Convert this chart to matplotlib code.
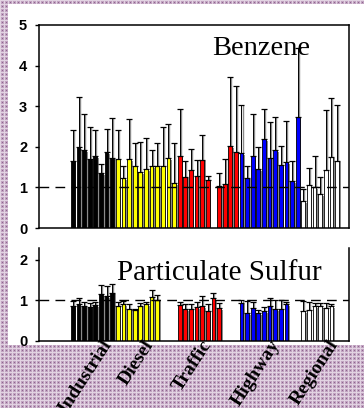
import numpy as np
import matplotlib.pyplot as plt

# groups of samples, left to right
groups = ['Industrial', 'Diesel', 'Traffic', 'Highway', 'Regional']
colors = ['#000000', '#ffff00', '#ff0000', '#0000ff', '#ffffff']

# Benzene ratio per sample (nan = no sample) and upper error
benz_ind = [1.66, 1.99, 1.92, 1.70, 1.77, 1.35, 1.86, 1.72]
benz_ind_err = [0.75, 1.23, 0.88, 0.80, 0.64, 0.22, 0.57, 0.98]
benz_die = [1.70, 1.22, 1.70, 1.53, 1.38, 1.45, 1.52, 1.53, 1.53, 1.72, 1.10]
benz_die_err = [0.72, 0.31, 0.98, 0.56, 0.73, 0.77, 0.40, 0.56, 0.96, 0.83, 0.99]
benz_tra = [1.77, 1.26, 1.42, 1.29, 1.68, 1.18, np.nan, 1.03, 1.08, 2.02, 1.87]
benz_tra_err = [1.16, 0.39, 0.53, 0.38, 0.62, 0.11, np.nan, 0.32, 0.61, 1.69, 1.63]
benz_hwy = [1.85, 1.24, 1.77, 1.45, 2.19, 1.73, 1.91, 1.54, 1.62, 1.16, 2.73]
benz_hwy_err = [1.18, 0.29, 1.03, 0.55, 0.73, 0.87, 0.82, 0.47, 1.02, 0.50, 1.70]
benz_reg = [0.66, 1.05, 1.01, 0.84, 1.42, 1.76, 1.66]
benz_reg_err = [0.29, 0.42, 0.77, 0.42, 1.48, 1.43, 1.36]

# Particulate sulfur ratio per sample
sulf_ind = [0.86, 0.91, 0.86, 0.84, 0.88, 1.15, 1.11, 1.19]
sulf_ind_err = [0.12, 0.15, 0.09, 0.10, 0.07, 0.24, 0.24, 0.21]
sulf_die = [0.87, 0.91, 0.80, 0.77, 0.87, 0.91, 1.09, 1.02, np.nan, np.nan, np.nan]
sulf_die_err = [0.09, 0.07, 0.10, 0.03, 0.07, 0.04, 0.16, 0.12, np.nan, np.nan, np.nan]
sulf_tra = [0.88, 0.78, 0.78, 0.83, 0.86, 0.73, 1.05, 0.81, np.nan, np.nan, np.nan]
sulf_tra_err = [0.08, 0.14, 0.12, 0.13, 0.24, 0.19, 0.12, 0.12, np.nan, np.nan, np.nan]
sulf_hwy = [0.94, 0.68, 0.81, 0.68, 0.73, 0.87, 0.78, 0.78, 0.91, np.nan, np.nan]
sulf_hwy_err = [0.08, 0.30, 0.15, 0.08, 0.11, 0.19, 0.22, 0.22, 0.06, np.nan, np.nan]
sulf_reg = [0.73, 0.77, 0.85, 0.86, 0.81, 0.85, np.nan]
sulf_reg_err = [0.25, 0.18, 0.08, 0.07, 0.12, 0.07, np.nan]

benz = [benz_ind, benz_die, benz_tra, benz_hwy, benz_reg]
benz_err = [benz_ind_err, benz_die_err, benz_tra_err, benz_hwy_err, benz_reg_err]
sulf = [sulf_ind, sulf_die, sulf_tra, sulf_hwy, sulf_reg]
sulf_err = [sulf_ind_err, sulf_die_err, sulf_tra_err, sulf_hwy_err, sulf_reg_err]

# where the rotated group labels end (in bar slots)
label_x = [6.3, 13.7, 24.1, 36.2, 46.6]

W, H = 364, 408
fig = plt.figure(figsize=(W / 100, H / 100), dpi=100)

# checkered page background round the chart ----------------------------------
bg = np.ones((H, W, 3))
yy, xx = np.mgrid[0:H, 0:W]
tex = np.full((H, W, 3), [0.76, 0.64, 0.76])
tex[(xx % 4 == 0) | (yy % 4 == 0)] = [0.89, 0.83, 0.89]
tex[(xx % 4 == 2) & (yy % 4 == 2)] = [0.56, 0.40, 0.56]
mask = (xx < 8) | (yy < 4) | (yy >= 345)
bg[mask] = tex[mask]
fig.figimage(bg, 0, 0, zorder=-1)

ax1 = fig.add_axes([39 / W, 1 - 228 / H, 310 / W, 203 / H])
ax2 = fig.add_axes([39 / W, 1 - 341 / H, 310 / W, 93 / H])


def draw_panel(ax, vals, errs):
    start = 0
    for c, v, e in zip(colors, vals, errs):
        v = np.array(v, dtype=float)
        e = np.array(e, dtype=float)
        x = start + np.arange(len(v))
        ok = ~np.isnan(v)
        x, v, e = x[ok], v[ok], e[ok]
        # grey depth shadow
        ax.bar(x + 0.3, v - 0.04, width=0.67, color='#8a8a8a', zorder=1)
        ax.bar(x, v, width=0.67, color=c, edgecolor='black', linewidth=0.6, zorder=2)
        ax.vlines(x + 0.18, v, v + e, color='#8a8a8a', linewidth=1.0, zorder=2)
        ax.errorbar(x, v, yerr=[np.zeros_like(e), e], fmt='none', ecolor='black',
                    elinewidth=0.7, capsize=2.5, capthick=0.9, zorder=3)
        start += len(v) + (~ok).sum()
    ax.axhline(1, color='black', linewidth=1.0, linestyle=(0, (7, 4.5)), zorder=4)
    ax.set_xlim(-6.03, 49.13)
    ax.set_xticks([])
    ax.tick_params(axis='y', direction='out', length=3, width=1, pad=5.5)
    for lab in ax.get_yticklabels():
        lab.set_fontfamily('Liberation Sans')
        lab.set_fontweight('bold')
        lab.set_fontsize(10.5)
    for s in ax.spines.values():
        s.set_linewidth(1.1)


ax1.set_ylim(0, 5)
ax1.set_yticks([0, 1, 2, 3, 4, 5])
draw_panel(ax1, benz, benz_err)
ax1.text(0.56, 0.852, 'Benzene', transform=ax1.transAxes, ha='left', va='baseline',
         fontfamily='Liberation Serif', fontsize=20.5, zorder=2.5)

ax2.set_ylim(0, 2.29)
ax2.set_yticks([0, 1, 2])
draw_panel(ax2, sulf, sulf_err)
ax2.spines['top'].set_visible(False)
ax2.text(0.2526, 0.656, 'Particulate Sulfur', transform=ax2.transAxes, ha='left',
         va='baseline', fontfamily='Liberation Serif', fontsize=21, zorder=2.5)

for g, lx in zip(groups, label_x):
    ax2.text(lx, -0.006, g, transform=ax2.get_xaxis_transform(), rotation=57,
             rotation_mode='anchor', ha='right', va='center', clip_on=False,
             fontfamily='Liberation Serif', fontweight='bold', fontsize=14, zorder=5)

fig.savefig('out.png', dpi=100)
